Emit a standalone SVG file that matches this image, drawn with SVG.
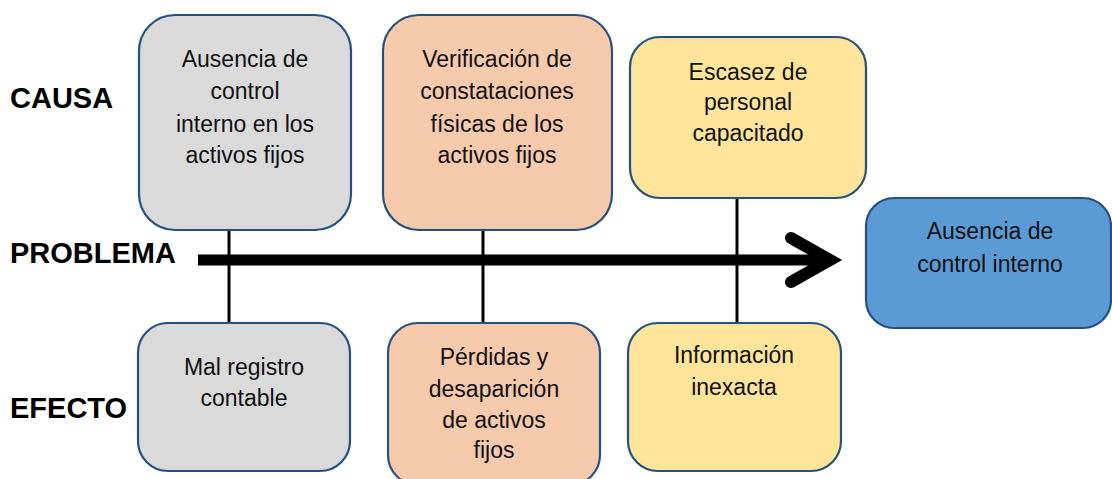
<svg xmlns="http://www.w3.org/2000/svg" width="1112" height="479" viewBox="0 0 1112 479">
<style>
.box{stroke:#26507F;stroke-width:2.2}
.gray{fill:#DADADA}
.sal{fill:#F7CAAC}
.yel{fill:#FEE599}
.blue{fill:#5B9BD5}
.t{font-family:"Liberation Sans",Arial,sans-serif;font-size:23px;fill:#111;text-anchor:middle}
.lbl{font-family:"Liberation Sans",Arial,sans-serif;font-size:29px;font-weight:bold;fill:#000}
.conn line{stroke:#000;stroke-width:3}
</style>
<rect width="1112" height="479" fill="#fff"/>
<g id="labels">
<text class="lbl" x="10" y="108">CAUSA</text>
<text class="lbl" x="10" y="263">PROBLEMA</text>
<text class="lbl" x="10" y="418">EFECTO</text>
</g>
<g class="conn" id="connectors">
<line x1="229" y1="229" x2="229" y2="324"/>
<line x1="483" y1="229" x2="483" y2="324"/>
<line x1="737" y1="197" x2="737" y2="326"/>
<path d="M198 260 H826" stroke="#000" stroke-width="11" fill="none"/>
<path d="M791 238 L830 260 L791 282" stroke="#000" stroke-width="12" fill="none" stroke-linecap="round" stroke-linejoin="miter"/>
</g>
<g id="c1">
<rect class="box gray" x="139" y="15" width="212" height="215" rx="36"/>
<text class="t" x="245" y="67">Ausencia de</text>
<text class="t" x="245" y="99">control</text>
<text class="t" x="245" y="132">interno en los</text>
<text class="t" x="245" y="163">activos fijos</text>
</g>
<g id="c2">
<rect class="box sal" x="383" y="15" width="229" height="215" rx="36"/>
<text class="t" x="497" y="67">Verificación de</text>
<text class="t" x="497" y="99">constataciones</text>
<text class="t" x="497" y="132">físicas de los</text>
<text class="t" x="497" y="163">activos fijos</text>
</g>
<g id="c3">
<rect class="box yel" x="630" y="37" width="236" height="161" rx="30"/>
<text class="t" x="748" y="80">Escasez de</text>
<text class="t" x="748" y="110">personal</text>
<text class="t" x="748" y="141">capacitado</text>
</g>
<g id="problem">
<rect class="box blue" x="866" y="198" width="245" height="130" rx="28"/>
<text class="t" x="990" y="239">Ausencia de</text>
<text class="t" x="990" y="272">control interno</text>
</g>
<g id="e1">
<rect class="box gray" x="138" y="323" width="212" height="148" rx="30"/>
<text class="t" x="244" y="375">Mal registro</text>
<text class="t" x="244" y="406">contable</text>
</g>
<g id="e2">
<rect class="box sal" x="388" y="323" width="212" height="162" rx="30"/>
<text class="t" x="494" y="365">Pérdidas y</text>
<text class="t" x="494" y="397">desaparición</text>
<text class="t" x="494" y="428">de activos</text>
<text class="t" x="494" y="458">fijos</text>
</g>
<g id="e3">
<rect class="box yel" x="628" y="323" width="213" height="148" rx="30"/>
<text class="t" x="734" y="363">Información</text>
<text class="t" x="734" y="395">inexacta</text>
</g>
</svg>
